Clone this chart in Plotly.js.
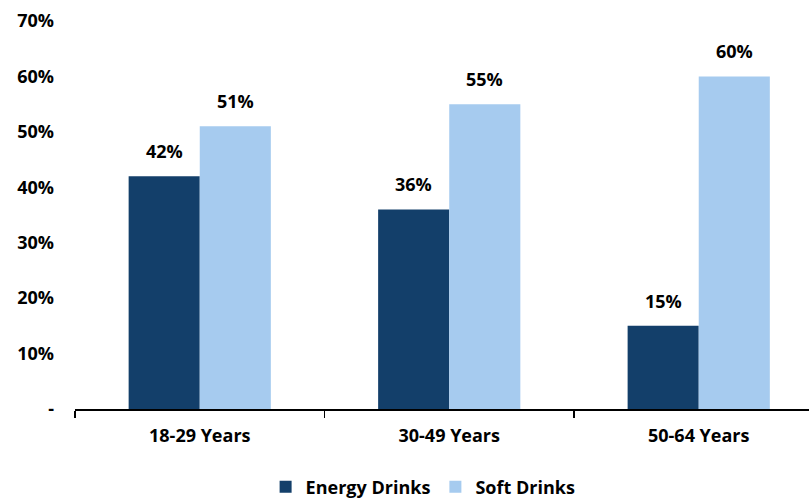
<!DOCTYPE html>
<html><head><meta charset="utf-8">
<script src="https://cdn.plot.ly/plotly-3.0.1.min.js"></script>
<style>html,body{margin:0;padding:0;background:#fff}</style>
</head><body><div id="chart" style="width:809px;height:500px"></div>
<script>
const categories = ["18-29 Years", "30-49 Years", "50-64 Years"];
const energyDrinks = [42, 36, 15];
const softDrinks = [51, 55, 60];
const seriesNames = ["Energy Drinks", "Soft Drinks"];
const yTickVals = [0, 10, 20, 30, 40, 50, 60, 70];
const yTickText = ["-", "10%", "20%", "30%", "40%", "50%", "60%", "70%"];

const FONT = "'Open Sans', sans-serif";
const FS = 18;
const traces = [
  {type: "bar", x: categories, y: energyDrinks, name: seriesNames[0], marker: {color: "#133F6A"}, hoverinfo: "skip"},
  {type: "bar", x: categories, y: softDrinks, name: seriesNames[1], marker: {color: "#A6CBEF"}, hoverinfo: "skip"}
];
const annotations = [];
[energyDrinks, softDrinks].forEach((vals, si) => {
  vals.forEach((v, i) => {
    annotations.push({x: categories[i], y: v, xref: "x", yref: "y", text: v + "%",
      showarrow: false, yanchor: "bottom", yshift: 11, xshift: si === 0 ? -35.5 : 35.5,
      font: {family: FONT, size: FS, color: "#000", weight: "bold"}});
  });
});
const layout = {
  width: 809, height: 500,
  margin: {l: 75, r: 0, t: 21, b: 91},
  paper_bgcolor: "#fff", plot_bgcolor: "#fff",
  barmode: "group", bargap: 0.43, bargroupgap: 0,
  font: {family: FONT, size: FS, color: "#000", weight: "bold"},
  xaxis: {type: "category", range: [-0.5, 2.442], showline: true, linecolor: "#000", linewidth: 1.5,
    ticks: "outside", tickson: "boundaries", ticklen: 7, tickcolor: "#000", tickwidth: 1.5,
    ticklabelstandoff: 10, showgrid: false, zeroline: false,
    tickfont: {family: FONT, size: FS, color: "#000", weight: "bold"}},
  yaxis: {range: [0, 70], tickvals: yTickVals, ticktext: yTickText, showgrid: false, zeroline: false,
    showline: false, ticks: "", ticklabelstandoff: 20,
    tickfont: {family: FONT, size: FS, color: "#000", weight: "bold"}},
  showlegend: true,
  legend: {orientation: "h", xref: "container", x: 0.523, xanchor: "center", yref: "container", y: 0.026, yanchor: "middle",
    font: {family: FONT, size: FS, color: "#000", weight: "bold"}, itemwidth: 30, traceorder: "normal",
    tracegroupgap: 0},
  annotations: annotations
};
Plotly.newPlot("chart", traces, layout, {displayModeBar: false, staticPlot: true});
</script></body></html>
